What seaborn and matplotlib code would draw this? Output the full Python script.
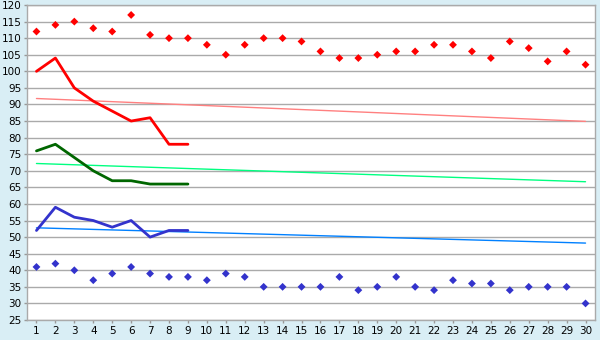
import matplotlib
matplotlib.use("Agg")
import matplotlib.pyplot as plt
import seaborn as sns
import pandas as pd
import numpy as np

days = list(range(1, 31))
red_points = [112, 114, 115, 113, 112, 117, 111, 110, 110, 108, 105, 108, 110, 110, 109,
              106, 104, 104, 105, 106, 106, 108, 108, 106, 104, 109, 107, 103, 106, 102]
blue_points = [41, 42, 40, 37, 39, 41, 39, 38, 38, 37, 39, 38, 35, 35, 35,
               35, 38, 34, 35, 38, 35, 34, 37, 36, 36, 34, 35, 35, 35, 30]
line_days = list(range(1, 10))
red_line = [100, 104, 95, 91, 88, 85, 86, 78, 78]
green_line = [76, 78, 74, 70, 67, 67, 66, 66, 66]
blue_line = [52, 59, 56, 55, 53, 55, 50, 52, 52]
trend_days = [1, 30]
red_trend = [91.8, 84.9]
green_trend = [72.2, 66.7]
blue_trend = [52.8, 48.2]
y_ticks = list(range(25, 121, 5))

sns.set_theme(style="white")
plt.rcParams['font.family'] = ['DejaVu Sans']

fig = plt.figure(figsize=(6, 3.4), dpi=100)
fig.patch.set_facecolor('#d9eef5')
ax = fig.add_axes([27/600, 1-320/340, (595-27)/600, (320-5)/340])
ax.set_facecolor('white')

for y in y_ticks:
    ax.axhline(y, color='#aaaaaa', lw=1, zorder=0)

sns.lineplot(x=trend_days, y=red_trend, color='#ff8080', lw=1, ax=ax)
sns.lineplot(x=trend_days, y=green_trend, color='#00ff80', lw=1, ax=ax)
sns.lineplot(x=trend_days, y=blue_trend, color='#0080ff', lw=1, ax=ax)

sns.lineplot(x=line_days, y=red_line, color='#ff0000', lw=2, ax=ax)
sns.lineplot(x=line_days, y=green_line, color='#006600', lw=2, ax=ax)
sns.lineplot(x=line_days, y=blue_line, color='#3333cc', lw=2, ax=ax)

sns.scatterplot(x=days, y=red_points, color='#ff0000', marker='D', s=16, edgecolor='none', ax=ax)
sns.scatterplot(x=days, y=blue_points, color='#3333cc', marker='D', s=16, edgecolor='none', ax=ax)

ax.set_xlim(0.5, 30.5)
ax.set_ylim(25, 120)
ax.set_xticks(days)
ax.set_xticklabels([str(d) for d in days])
ax.set_yticks(y_ticks)
ax.set_yticklabels([str(y) for y in y_ticks])
ax.tick_params(axis='both', labelsize=7.5, colors='#000000', length=2.5, width=1, color='#999999', direction='out', pad=1.5)
ax.tick_params(axis='x', bottom=True)
ax.tick_params(axis='y', left=True)
for s in ax.spines.values():
    s.set_color('#aaaaaa')
    s.set_linewidth(1)

fig.savefig('out.png', dpi=100, facecolor=fig.get_facecolor())
